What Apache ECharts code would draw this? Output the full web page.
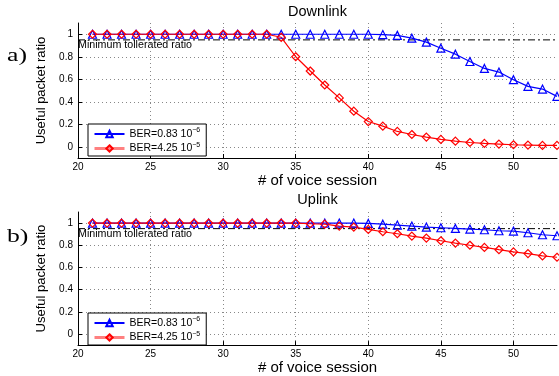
<!DOCTYPE html>
<html><head><meta charset="utf-8">
<script src="https://cdn.jsdelivr.net/npm/echarts@6/dist/echarts.min.js"></script>
<style>html,body{margin:0;padding:0;background:#fff}#c{width:559px;height:376px}</style>
</head><body><div id="c"></div>
<script>
const sessions = [21,22,23,24,25,26,27,28,29,30,31,32,33,34,35,36,37,38,39,40,41,42,43,44,45,46,47,48,49,50,51,52,53];
const dlBlue = [1,1,1,1,1,1,1,1,1,1,1,1,1,1,1,1,1,1,1,1,0.997,0.99,0.965,0.93,0.876,0.823,0.758,0.696,0.664,0.596,0.537,0.513,0.448];
const dlRed  = [1,1,1,1,1,1,1,1,1,1,1,1,1,0.973,0.80,0.673,0.549,0.434,0.316,0.224,0.183,0.136,0.109,0.086,0.065,0.05,0.038,0.03,0.024,0.018,0.015,0.012,0.012];
const ulBlue = [1,1,1,1,1,1,1,1,1,1,1,1,1,1,1,1,1,1,1,0.997,0.99,0.982,0.973,0.964,0.958,0.952,0.946,0.94,0.931,0.928,0.913,0.895,0.886];
const ulRed  = [1,1,1,1,1,1,1,1,1,1,1,1,1,1,1,0.994,0.991,0.973,0.964,0.943,0.922,0.904,0.883,0.865,0.841,0.82,0.80,0.781,0.76,0.74,0.725,0.704,0.692];
const minRatio = 0.95;
const xRange = [20, 53];
const xTicks = [20,25,30,35,40,45,50];
const yTicks = [0,0.2,0.4,0.6,0.8,1];
const yRange = [-0.1, 1.1];
const nameBlue = 'BER=0.83 10^-6';
const nameRed = 'BER=4.25 10^-5';
const legendLabels = {[nameBlue]: 'BER=0.83 10{sup|−6}', [nameRed]: 'BER=4.25 10{sup|−5}'};
const panelTitles = ['Downlink', 'Uplink'];
const panelTags = ['a)', 'b)'];
const minLabel = 'Minimum tollerated ratio';
const xName = '# of voice session';
const yName = 'Useful packet ratio';

const FONT = 'Liberation Sans, Arial, sans-serif';
const chart = echarts.init(document.getElementById('c'), null, {renderer: 'canvas'});
const grids = [{left:78, top:23, right:2, height:135}, {left:78, top:212, right:2, height:134}];

function xAxisFor(i){
  return {type:'value', gridIndex:i, min:xRange[0], max:xRange[1],
    name:xName, nameLocation:'middle', nameGap:14,
    nameTextStyle:{fontFamily:FONT, fontSize:15, color:'#000'},
    axisLine:{show:true, onZero:false, lineStyle:{color:'#000', width:1}},
    axisTick:{show:true, inside:true, length:4, customValues:xTicks, lineStyle:{color:'#000'}},
    axisLabel:{customValues:xTicks, fontFamily:FONT, fontSize:10, color:'#000', margin:4},
    splitLine:{show:true, lineStyle:{color:'#888', type:[1,3], width:1}}};
}
function yAxisFor(i){
  return {type:'value', gridIndex:i, min:yRange[0], max:yRange[1],
    name:yName, nameLocation:'middle', nameGap:24.5,
    nameTextStyle:{fontFamily:FONT, fontSize:13, color:'#000'},
    axisLine:{show:true, onZero:false, lineStyle:{color:'#000', width:1}},
    axisTick:{show:true, inside:true, length:4, customValues:yTicks, lineStyle:{color:'#000'}},
    axisLabel:{customValues:yTicks, fontFamily:FONT, fontSize:10, color:'#000', margin:5,
      formatter:v=>String(+v.toFixed(1))},
    splitLine:{show:true, lineStyle:{color:'#888', type:[1,3], width:1}}};
}
function pairs(vals){ return sessions.map((s,k)=>[s, vals[k]]); }
function lineSeries(name, vals, i, color, symbol){
  return {type:'line', name, xAxisIndex:i, yAxisIndex:i, data:pairs(vals), clip:false,
    symbol, symbolSize:8, showSymbol:true,
    lineStyle:{color, width:1.2}, itemStyle:{color:'rgba(255,255,255,0)', borderColor:color, borderWidth:1.2},
    emphasis:{disabled:true}, z:3};
}
function minSeries(i){
  return {type:'line', name:'min'+i, xAxisIndex:i, yAxisIndex:i, data:[[xRange[0],minRatio],[xRange[1],minRatio]],
    symbol:'none', silent:true, lineStyle:{color:'#000', width:1, type:[7,3,2,3]}, z:2};
}
function legendFor(top){
  return {orient:'vertical', left:88, top, padding:[3,6,2,5], itemGap:2, itemWidth:30, itemHeight:8,
    borderColor:'#000', borderWidth:1, backgroundColor:'#fff', selectedMode:false,
    data:[{name:nameBlue}, {name:nameRed, lineStyle:{color:'#ff8080', width:3}}],
    formatter:n=>legendLabels[n],
    textStyle:{fontFamily:FONT, fontSize:10.5, color:'#000', rich:{sup:{fontSize:7, fontFamily:FONT, color:'#000', padding:[0,0,7,0]}}}};
}
const graphics = [];
[12, 200].forEach((y,i)=>graphics.push({type:'text', x:317.5, y, style:{text:panelTitles[i], font:'14.5px '+FONT, fill:'#000', textAlign:'center', textVerticalAlign:'middle'}}));
[56, 237].forEach((y,i)=>graphics.push({type:'text', x:7, y, scaleX:1.35, style:{text:panelTags[i], font:'19px Liberation Serif, Times New Roman, serif', fill:'#000', textAlign:'left', textVerticalAlign:'middle'}}));
[45, 234].forEach(y=>graphics.push({type:'text', x:78, y, style:{text:minLabel, font:'10.7px '+FONT, fill:'#000', textAlign:'left', textVerticalAlign:'middle'}}));

chart.setOption({
  animation:false, backgroundColor:'#fff',
  grid:grids,
  xAxis:[xAxisFor(0), xAxisFor(1)],
  yAxis:[yAxisFor(0), yAxisFor(1)],
  legend:[legendFor(124), legendFor(313)],
  graphic:graphics,
  series:[
    minSeries(0), minSeries(1),
    lineSeries(nameBlue, dlBlue, 0, '#0000ff', 'triangle'),
    lineSeries(nameRed, dlRed, 0, '#ff0000', 'diamond'),
    lineSeries(nameBlue, ulBlue, 1, '#0000ff', 'triangle'),
    lineSeries(nameRed, ulRed, 1, '#ff0000', 'diamond')
  ]
});
</script></body></html>
